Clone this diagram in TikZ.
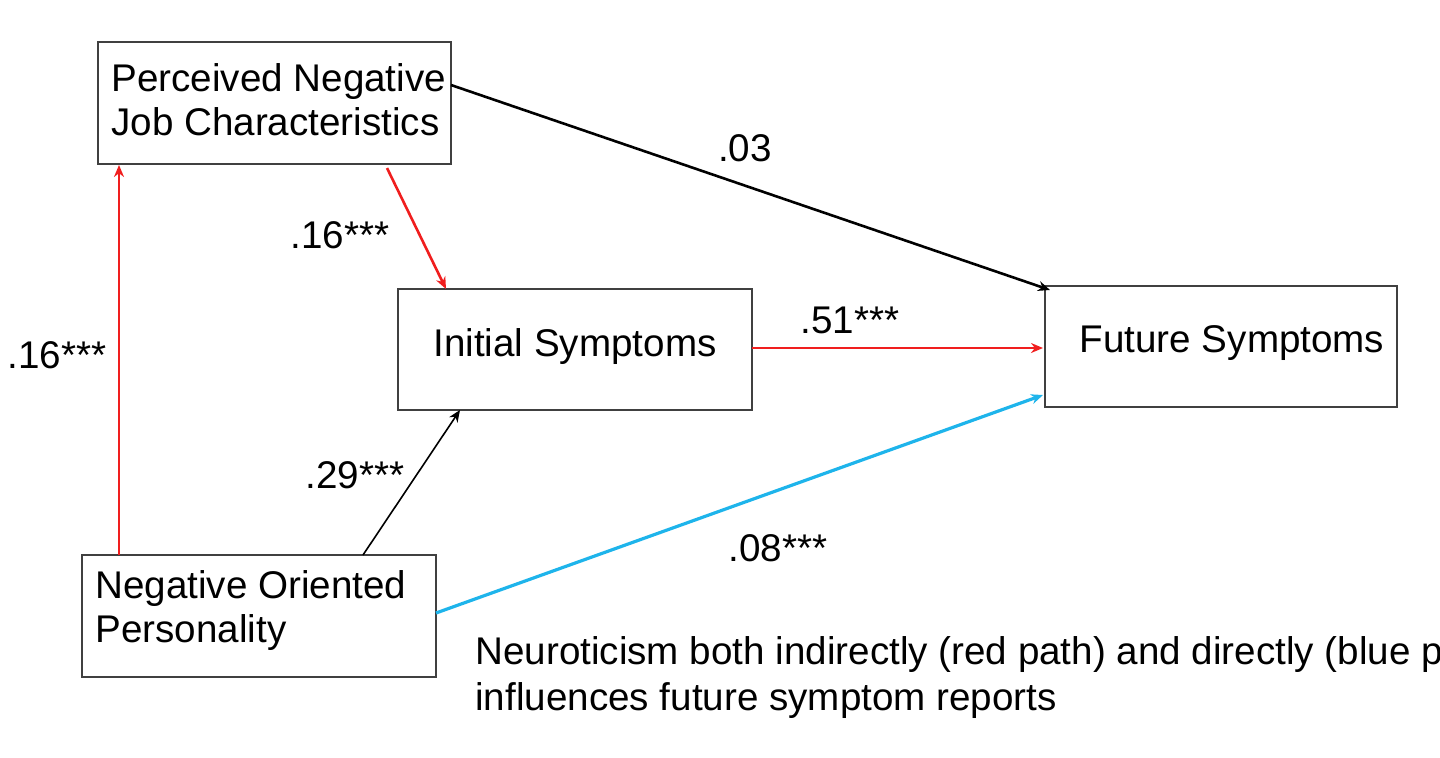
\documentclass[tikz,border=0pt]{standalone}
\usepackage{fontspec}
\setmainfont{Liberation Sans}
\usetikzlibrary{arrows.meta}
\begin{document}
\begin{tikzpicture}[x=0.5pt,y=-0.5pt,
  box/.style={draw=black!75,line width=0.9pt,inner sep=0pt},
  lbl/.style={font=\fontsize{19.3}{22}\selectfont,align=left,inner sep=0pt},
  arr/.style={-{Stealth[length=6pt,width=5pt]},line width=1.3pt},
  red/.style={draw={rgb,255:red,240;green,30;blue,30}},
  blu/.style={draw={rgb,255:red,30;green,180;blue,235}}]
\useasboundingbox (0,0) rectangle (1440,757);
\clip (0,0) rectangle (1440,757);
\node[box,minimum width=176.5pt,minimum height=61pt] (p) at (274.5,103) {};
\node[lbl,anchor=west] at (111,100) {Perceived Negative\\Job Characteristics};
\node[box,minimum width=177pt,minimum height=60.5pt] (i) at (575,349.5) {};
\node[lbl] at (575,347) {Initial Symptoms};
\node[box,minimum width=176pt,minimum height=60.5pt] (f) at (1221,346.5) {};
\node[lbl] at (1232,343) {Future Symptoms};
\node[box,minimum width=177pt,minimum height=61pt] (n) at (259,616) {};
\node[lbl,anchor=west] at (95,611) {Negative Oriented\\Personality};
\coordinate (pe) at (451,85); \coordinate (ftl) at (1050,290);
\coordinate (pb) at (387,168); \coordinate (it) at (446,289);
\coordinate (nt) at (119,555); \coordinate (pbl) at (119,165);
\coordinate (ie) at (752,348); \coordinate (fw) at (1043,348);
\coordinate (nt2) at (363,555); \coordinate (ib) at (460,410);
\coordinate (ne) at (436,613); \coordinate (fbl) at (1043,395);
\draw[arr] (pe) -- (ftl);
\draw[arr,red] (pb) -- (it);
\draw[arr,red] (nt) -- (pbl);
\draw[arr,red] (ie) -- (fw);
\draw[arr,line width=0.8pt] (nt2) -- (ib);
\draw[arr,blu,line width=1.6pt] (ne) -- (fbl);
\node[lbl] at (745,148) {.03};
\node[lbl] at (340,235) {.16***};
\node[lbl] at (57,355) {.16***};
\node[lbl] at (850,320) {.51***};
\node[lbl] at (355,475) {.29***};
\node[lbl] at (778,548) {.08***};
\node[lbl,anchor=north west,font=\fontsize{19.3}{23}\selectfont] at (475,636) {Neuroticism both indirectly (red path) and directly (blue path)\\influences future symptom reports};
\end{tikzpicture}
\end{document}
